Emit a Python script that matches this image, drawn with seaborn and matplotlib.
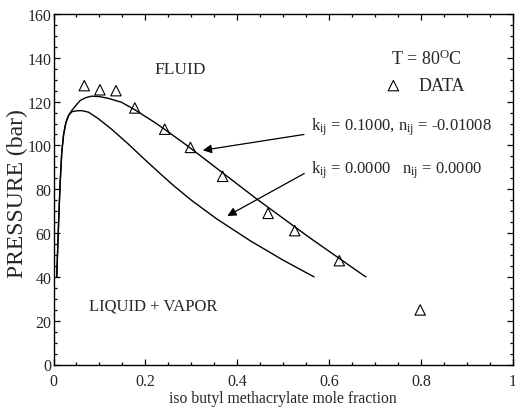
import matplotlib
matplotlib.use("Agg")
import matplotlib.pyplot as plt
import seaborn as sns
import pandas as pd
from matplotlib.ticker import MultipleLocator

# ---- data ----
data_x = [0.067, 0.101, 0.136, 0.177, 0.242, 0.298, 0.368, 0.467, 0.525, 0.622, 0.798]
data_p = [127.3, 125.4, 125.0, 117.1, 107.4, 99.1, 85.9, 69.0, 61.1, 47.4, 24.9]

# model curve k_ij = 0.1000, n_ij = -0.01008
fit1_x = [0.007, 0.0095, 0.012, 0.0145, 0.018, 0.022, 0.027, 0.033, 0.040, 0.050,
          0.058, 0.070, 0.083, 0.100, 0.119, 0.148, 0.177, 0.221, 0.243, 0.293,
          0.355, 0.442, 0.558, 0.674, 0.680]
fit1_p = [40.0, 55.0, 70.0, 83.0, 97.0, 105.0, 110.5, 113.8, 116.0, 118.6,
          120.5, 121.8, 122.5, 122.3, 121.5, 119.7, 116.3, 110.4, 107.2, 99.6,
          89.6, 75.6, 57.8, 40.8, 40.0]

# model curve k_ij = 0.0000, n_ij = 0.0000
fit0_x = [0.007, 0.0095, 0.012, 0.0145, 0.018, 0.022, 0.027, 0.033, 0.040, 0.050,
          0.061, 0.076, 0.097, 0.127, 0.163, 0.199, 0.235, 0.264, 0.300, 0.355,
          0.428, 0.500, 0.567]
fit0_p = [40.0, 55.0, 70.0, 83.0, 97.0, 105.0, 110.5, 113.8, 115.4, 115.8,
          115.9, 115.2, 112.3, 107.3, 100.6, 93.5, 86.6, 81.2, 75.0, 66.5,
          56.5, 47.6, 40.0]

x_ticks = [0, 0.2, 0.4, 0.6, 0.8, 1]
x_ticklabels = ["0", "0.2", "0.4", "0.6", "0.8", "1"]
y_ticks = [0, 20, 40, 60, 80, 100, 120, 140, 160]

df_data = pd.DataFrame({"x": data_x, "p": data_p})
df_fit1 = pd.DataFrame({"x": fit1_x, "p": fit1_p})
df_fit0 = pd.DataFrame({"x": fit0_x, "p": fit0_p})

sns.set_theme(style="ticks")
plt.rcParams["font.family"] = ["Liberation Serif", "DejaVu Serif"]
plt.rcParams["mathtext.fontset"] = "custom"
plt.rcParams["mathtext.rm"] = "Liberation Serif"
plt.rcParams["mathtext.it"] = "Liberation Serif:italic"

fig = plt.figure(figsize=(5.15, 4.10), dpi=100)
ax = fig.add_axes([53.5 / 515, 1 - 365.5 / 410, (513 - 53.5) / 515, (365.5 - 15) / 410])

sns.lineplot(data=df_fit1, x="x", y="p", ax=ax, color="black", lw=1.0, sort=False, estimator=None)
sns.lineplot(data=df_fit0, x="x", y="p", ax=ax, color="black", lw=1.0, sort=False, estimator=None)
sns.scatterplot(data=df_data, x="x", y="p", ax=ax, marker="^", s=56,
                facecolor="none", edgecolor="black", linewidth=0.8, label="DATA", zorder=5)

ax.set_xlim(0, 1)
ax.set_ylim(0, 160)
ax.set_xticks(x_ticks)
ax.set_xticklabels(x_ticklabels)
ax.set_yticks(y_ticks)
ax.xaxis.set_minor_locator(MultipleLocator(0.05))
ax.yaxis.set_minor_locator(MultipleLocator(5))
ax.tick_params(which="both", direction="in", top=True, right=True, color="black",
               width=0.9)
ax.tick_params(which="major", length=4.5, labelsize=11.5)
ax.tick_params(which="minor", length=2.5)
ax.tick_params(axis="x", which="major", pad=6)
ax.tick_params(axis="y", which="major", pad=1.5)
for sp in ax.spines.values():
    sp.set_linewidth(1.0)
    sp.set_color("black")

ax.set_xlabel("iso butyl methacrylate mole fraction", fontsize=11.3, labelpad=1)
ax.set_ylabel("PRESSURE (bar)", fontsize=17)
ax.yaxis.set_label_coords(-0.056, 0.49)

leg = ax.legend(loc="center left", bbox_to_anchor=(0.721, 127.2),
                bbox_transform=ax.transData, frameon=False, fontsize=13,
                handlelength=0.95, handletextpad=0.9, borderpad=0, borderaxespad=0)

ax.text(0.275, 135, "FLUID", fontsize=12.5, ha="center", va="center")
ax.text(0.217, 27, "LIQUID + VAPOR", fontsize=12, ha="center", va="center")
ax.text(0.812, 140, r"T = 80$^{\mathrm{O}}$C", fontsize=13, ha="center", va="center")
ax.text(0.561, 109, r"k$_{\mathrm{ij}}$ = 0.1000, n$_{\mathrm{ij}}$ = -0.01008",
        fontsize=12, ha="left", va="center")
ax.text(0.561, 89, r"k$_{\mathrm{ij}}$ = 0.0000   n$_{\mathrm{ij}}$ = 0.0000",
        fontsize=12, ha="left", va="center")

arrow = dict(arrowstyle="-|>", color="black", lw=0.9, mutation_scale=13)
ax.annotate("", xy=(0.319, 97.6), xytext=(0.551, 105.2), arrowprops=arrow)
ax.annotate("", xy=(0.373, 67.2), xytext=(0.551, 87.8), arrowprops=arrow)

fig.savefig("out.png", dpi=100)
